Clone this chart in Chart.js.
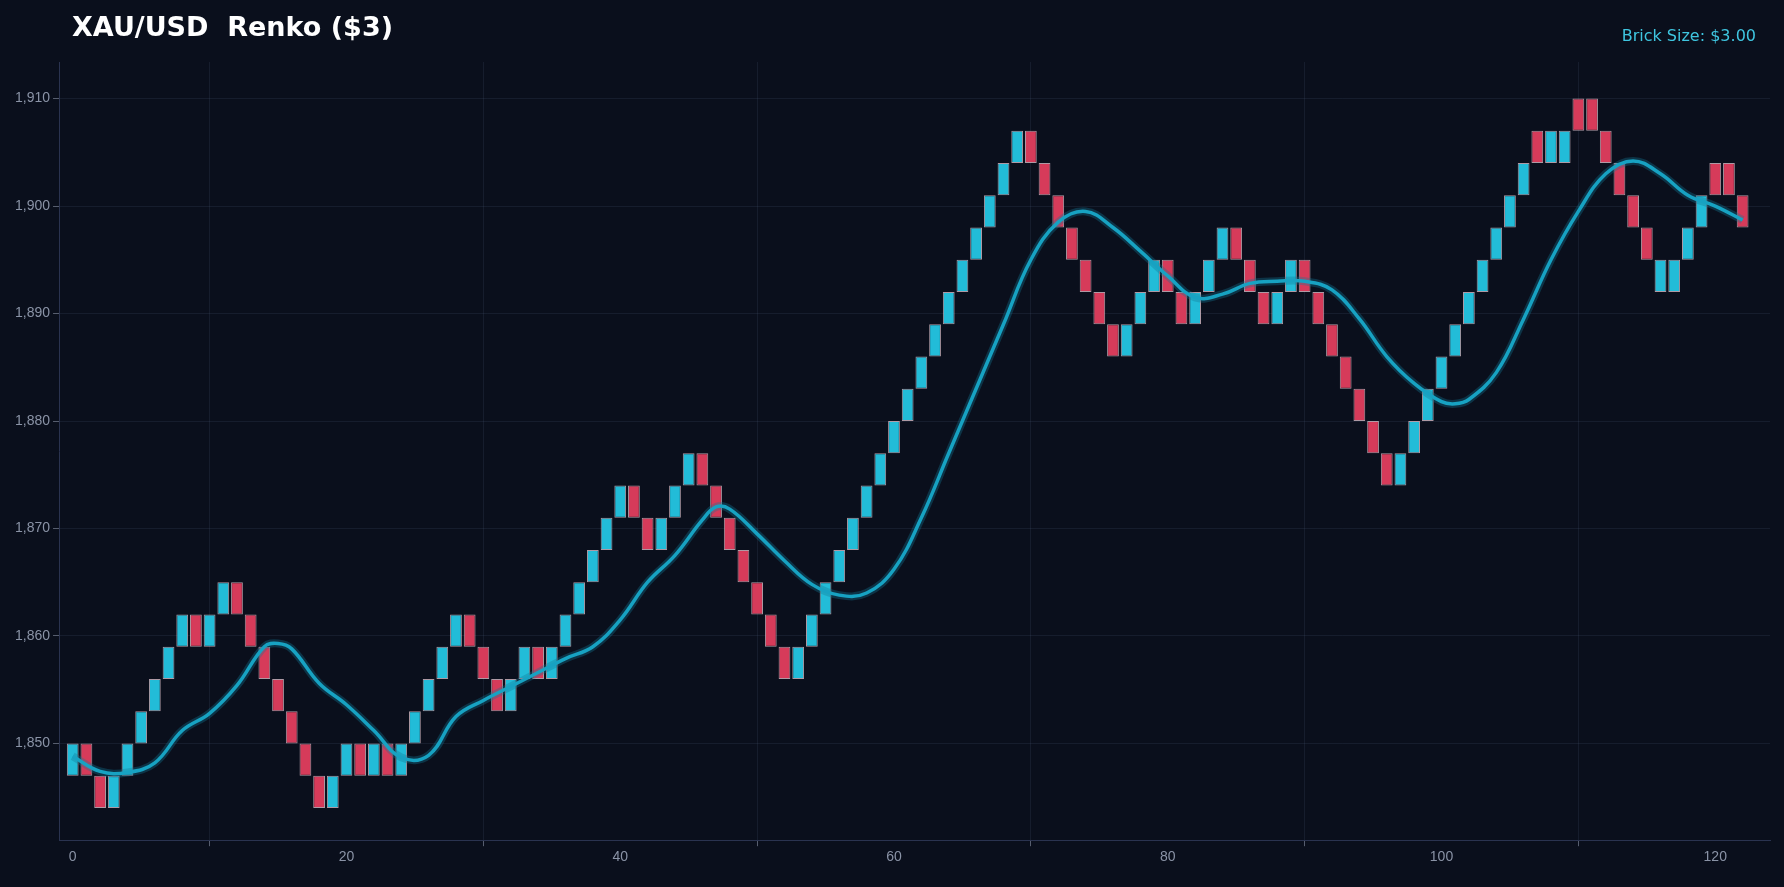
<!DOCTYPE html>
<html>
<head>
<meta charset="utf-8">
<script src="https://cdn.jsdelivr.net/npm/chart.js@4"></script>
<style>
  html, body { margin: 0; padding: 0; background: #0a0f1c; }
  #wrap { position: relative; width: 1784px; height: 887px; }
  #title { position: absolute; left: 72px; top: 11px; color: #ffffff; font: bold 27px "DejaVu Sans", sans-serif; white-space: pre; }
  #brick { position: absolute; right: 28px; top: 26px; color: #3fc6e0; font: 16px "DejaVu Sans", sans-serif; }
</style>
</head>
<body>
<div id="wrap">
  <canvas id="chart" width="1784" height="887"></canvas>
  <div id="title">XAU/USD  Renko ($3)</div>
  <div id="brick">Brick Size: $3.00</div>
</div>
<script>
var brickSize = 3;
// low of each brick
var brickLows = [1847,1847,1844,1844,1847,1850,1853,1856,1859,1859,1859,1862,1862,1859,1856,1853,1850,1847,1844,1844,
  1847,1847,1847,1847,1847,1850,1853,1856,1859,1859,1856,1853,1853,1856,1856,1856,1859,1862,1865,1868,
  1871,1871,1868,1868,1871,1874,1874,1871,1868,1865,1862,1859,1856,1856,1859,1862,1865,1868,1871,1874,
  1877,1880,1883,1886,1889,1892,1895,1898,1901,1904,1904,1901,1898,1895,1892,1889,1886,1886,1889,1892,
  1892,1889,1889,1892,1895,1895,1892,1889,1889,1892,1892,1889,1886,1883,1880,1877,1874,1874,1877,1880,
  1883,1886,1889,1892,1895,1898,1901,1904,1904,1904,1907,1907,1904,1901,1898,1895,1892,1892,1895,1898,
  1901,1901,1898];
// 1 = up (cyan), 0 = down (red)
var brickDir = [1,0,0,1,1,1,1,1,1,0,1,1,0,0,0,0,0,0,0,1,
  1,0,1,0,1,1,1,1,1,0,0,0,1,1,0,1,1,1,1,1,
  1,0,0,1,1,1,0,0,0,0,0,0,0,1,1,1,1,1,1,1,
  1,1,1,1,1,1,1,1,1,1,0,0,0,0,0,0,0,1,1,1,
  0,0,1,1,1,0,0,0,1,1,0,0,0,0,0,0,0,1,1,1,
  1,1,1,1,1,1,1,0,1,1,0,0,0,0,0,0,1,1,1,1,
  0,0,0];
var xTicks = [0,20,40,60,80,100,120];
var yTicks = [1850,1860,1870,1880,1890,1900,1910];
// moving average
var maIdx = [0,2,4,6,8,10,12,14,15,16,18,20,22,24,26,28,30,32,34,36,38,40,42,44,46,47,48,50,52,54,56,58,60,62,64,66,68,70,72,74,76,78,80,82,84,86,88,90,92,94,96,98,100,101,102,104,106,108,110,112,114,116,118,120,122];
var maVal = [1848.8,1847.4,1847.3,1848.2,1851.2,1852.8,1855.4,1859.0,1859.3,1858.8,1855.6,1853.6,1851.2,1848.7,1848.9,1852.5,1854.0,1855.3,1856.6,1857.9,1859.0,1861.5,1865.0,1867.5,1870.8,1872.0,1871.8,1869.5,1867.0,1864.8,1863.8,1864.0,1866.2,1871.0,1877.0,1883.0,1889.0,1895.0,1898.5,1899.5,1898.0,1895.8,1893.5,1891.5,1891.8,1892.8,1893.0,1893.0,1892.2,1889.5,1886.0,1883.5,1881.8,1881.6,1882.0,1884.5,1889.5,1895.0,1899.5,1903.0,1904.2,1903.0,1901.0,1900.0,1898.7];

var bricks = brickLows.map(function(lo, i){ return {x: i, y: [lo, lo + brickSize]}; });
var colors = brickDir.map(function(d){ return d ? '#22bcd8' : '#d63b5a'; });
var ma = maIdx.map(function(x, i){ return {x: x, y: maVal[i]}; });

var grid = 'rgba(70,80,110,0.22)';
new Chart(document.getElementById('chart'), {
  data: {
    datasets: [
      { type: 'line', data: ma, borderColor: 'rgba(20,120,150,0.35)', borderWidth: 8, pointRadius: 0, tension: 0.4, order: 1 },
      { type: 'line', data: ma, borderColor: '#17a2c2', borderWidth: 3.5, pointRadius: 0, tension: 0.4, order: 0 },
      { type: 'bar', data: bricks, backgroundColor: colors, borderColor: 'rgba(230,200,210,0.75)', borderWidth: 1,
        borderSkipped: false, barPercentage: 0.86, categoryPercentage: 1, order: 2 }
    ]
  },
  options: {
    responsive: false,
    animation: false,
    layout: { padding: { left: 12, right: 14, top: 62, bottom: 18 } },
    plugins: { legend: { display: false }, tooltip: { enabled: false } },
    scales: {
      x: { type: 'linear', min: -1, max: 124, offset: false,
        ticks: { color: '#8a93a6', font: { size: 14 } },
        afterBuildTicks: function(a){ a.ticks = xTicks.map(function(v){ return {value: v}; }); },
        grid: { color: grid, tickColor: 'rgba(138,147,166,0.6)', tickLength: 6 },
        border: { color: '#2a3350' } },
      y: { min: 1841, max: 1913.4,
        ticks: { color: '#8a93a6', font: { size: 14 } },
        afterBuildTicks: function(a){ a.ticks = yTicks.map(function(v){ return {value: v}; }); },
        grid: { color: grid, tickColor: 'rgba(138,147,166,0.6)', tickLength: 6 },
        border: { color: '#2a3350' } }
    }
  }
});
</script>
</body>
</html>
